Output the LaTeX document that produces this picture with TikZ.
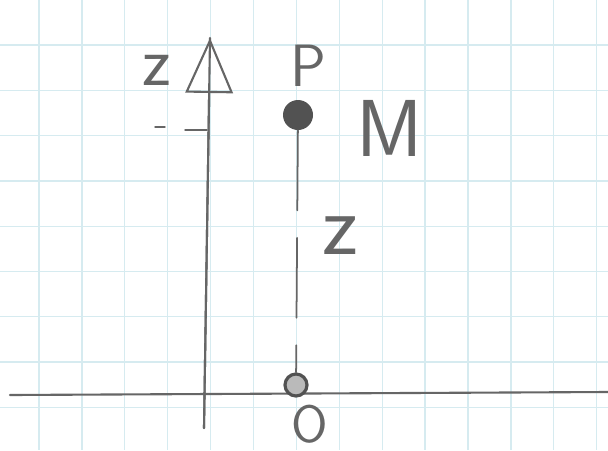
\documentclass[tikz,border=0pt]{standalone}
\usepackage{fontspec}
\usepackage{xcolor}
\usepackage{tikz}
\usetikzlibrary{calc, positioning, arrows.meta}
\definecolor{pencil}{HTML}{666666}
\definecolor{gridblue}{HTML}{D6EBF0}

\begin{document}
\begin{tikzpicture}[x=0.02cm, y=-0.02cm,
    pencil/.style={draw=pencil, line width=1.2pt, line cap=round},
    lbl/.style={text=pencil, inner sep=0pt, font=\fontsize{#1}{#1}\selectfont\sffamily}]
    % Giấy kẻ ô
    \fill[white] (0,0) rectangle (608,450);
    \useasboundingbox (0,0) rectangle (608,450);
    \foreach \i in {0,...,13}
        \draw[gridblue, line width=0.7pt] ({39+42.9*\i},0) -- ({39+42.9*\i},450);
    \foreach \j in {0,...,8}
        \draw[gridblue, line width=0.7pt] (0,{45+45.3*\j}) -- (608,{45+45.3*\j});

    % Trục z và trục ngang
    \coordinate (zbot) at (204,428);
    \coordinate (ztop) at (210,38);
    \draw[pencil, -{Triangle[open, length=1.1cm, width=0.95cm]}] (zbot) -- (ztop);
    \draw[pencil] (zbot) -- (ztop);
    \coordinate (xl) at (10,395);
    \coordinate (xr) at (608,392);
    \draw[pencil] (xl) -- (xr);
    \node[lbl=40] (zaxis) at (157,70) {z};
    \draw[pencil, line width=0.8pt] (185,130) -- (207,130);
    \draw[pencil, line width=0.8pt] (155,127) -- (165,127);

    % Điểm M và gốc O
    \node[circle, fill=pencil!80!black, minimum size=30*0.02cm, inner sep=0pt] (M) at (298,115) {};
    \node[circle, draw=pencil!80!black, fill=pencil!45, line width=1.8pt, minimum size=22*0.02cm, inner sep=0pt] (O) at (296,385) {};
    \draw[pencil, line width=1pt, dash pattern=on 1.6cm off 0.55cm] (M) -- (O);
    \node[lbl=34] (P) at (308,66) {P};
    \node[lbl=46] (Mlbl) at (390,128) {M};
    \node[lbl=50] (zlen) at (340,236) {z};
    \node[lbl=30] (Olbl) at (310,424) {O};
\end{tikzpicture}
\end{document}
